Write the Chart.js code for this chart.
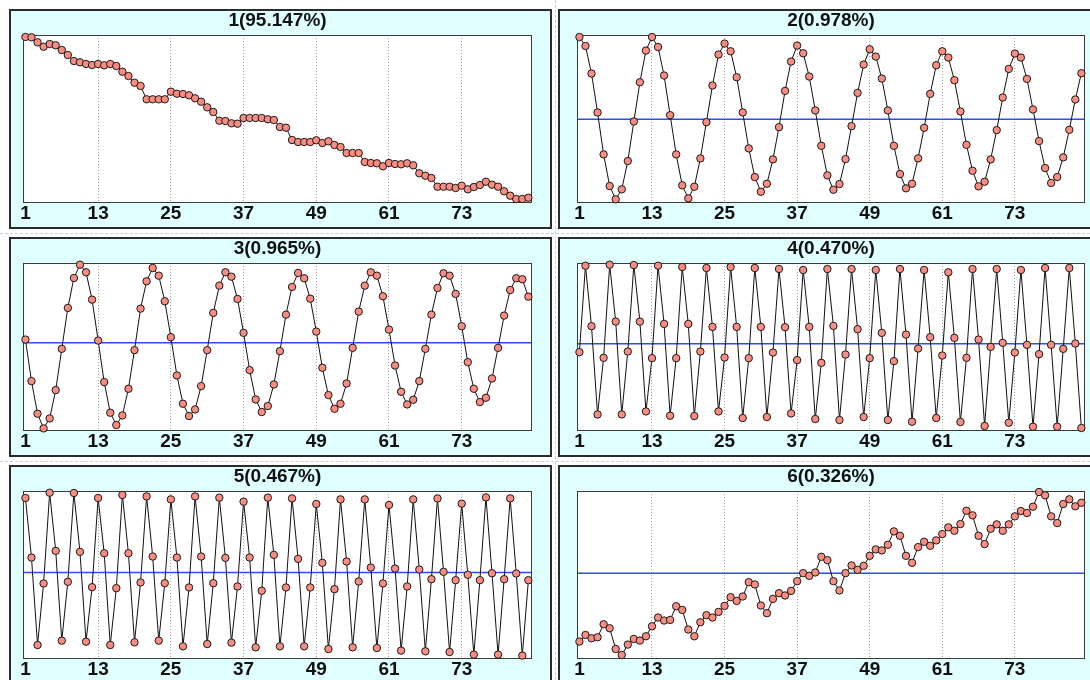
<!DOCTYPE html>
<html>
<head>
<meta charset="utf-8">
<script src="https://cdn.jsdelivr.net/npm/chart.js@4.4.1/dist/chart.umd.min.js"></script>
<style>
  html, body { margin: 0; padding: 0; background: #fff; }
  body { width: 1090px; height: 680px; position: relative; overflow: hidden; }
  .panel { position: absolute; box-sizing: border-box; width: 543px; height: 220px;
           border: 2px solid #2b2b2b; background: #e0ffff; }
  .panel.r { width: 540px; }
  .dash { position: absolute; border: 0 dashed #c3d2ee; }
</style>
</head>
<body>
<div class="dash" style="left:0;top:233px;width:1090px;border-top-width:1px"></div>
<div class="dash" style="left:0;top:461px;width:1090px;border-top-width:1px"></div>
<div class="dash" style="left:555px;top:0;height:680px;border-left-width:1px"></div>

<div class="panel" style="left:9px;top:9px"><canvas id="c1"></canvas></div>
<div class="panel r" style="left:558px;top:9px"><canvas id="c2"></canvas></div>
<div class="panel" style="left:9px;top:237px"><canvas id="c3"></canvas></div>
<div class="panel r" style="left:558px;top:237px"><canvas id="c4"></canvas></div>
<div class="panel" style="left:9px;top:465px"><canvas id="c5"></canvas></div>
<div class="panel r" style="left:558px;top:465px"><canvas id="c6"></canvas></div>

<script>
// x tick labels shown under every panel
const xTicks = [1, 13, 25, 37, 49, 61, 73];

const titles = ['1(95.147%)', '2(0.978%)', '3(0.965%)', '4(0.470%)', '5(0.467%)', '6(0.326%)'];

// components (relative units, 84 points each)
const comp1 = [166, 165.7, 160.7, 156.3, 159, 157.7, 153, 148, 142, 140.7,
  139, 138, 139, 137.7, 139, 137, 131.3, 127, 120.3, 117,
  103.7, 103.7, 103.7, 103.7, 111.3, 109.3, 109, 107.7, 104.7, 101.3,
  95.7, 91, 82.3, 82, 79.7, 79.3, 85, 85, 85, 85,
  83.7, 83, 76, 75.3, 63, 61, 61, 61, 62.7, 60,
  61.7, 58, 56, 50, 50, 50, 41, 40, 39.7, 36.7,
  40, 39, 38.7, 39.7, 37.7, 29.7, 27.3, 25, 16.3, 16.3,
  16.3, 15, 17.3, 13.7, 16, 18, 21.3, 18.3, 16.3, 11.7,
  7.3, 4, 4, 5.3];

const comp2 = [82.3, 73.3, 45.7, 6.7, -35.3, -67, -80.3, -70.3, -42, -2.3,
  37, 68.7, 82.3, 72.3, 43.7, 4, -35.3, -66.3, -79.3, -67.7,
  -39.3, -3, 33.7, 64.7, 75.7, 68, 42, 6.7, -29.3, -58,
  -72.7, -64.7, -40.3, -8, 28.3, 57.7, 73.7, 66, 42.7, 8.7,
  -26.7, -56.3, -70.7, -65, -40, -7, 26.3, 54.7, 70, 62.7,
  40.7, 8.7, -26.7, -55, -69.3, -64.7, -39.3, -8.7, 25.3, 54,
  68, 61.7, 39, 7.7, -25.7, -51.7, -67.3, -62.7, -40.3, -11,
  21.7, 50.3, 65.7, 61.7, 40.3, 9.7, -22, -49, -64, -58,
  -38.3, -10.7, 19.7, 46];

const comp3 = [3.3, -38.3, -71, -85.7, -75.7, -47.3, -6, 35, 65, 78.3,
  70.7, 43.3, 2.3, -39.3, -70, -82.3, -72.7, -46, -7.3, 34.3,
  61.7, 75, 67.3, 41.7, 5.7, -32.7, -61, -73.3, -66.7, -43.3,
  -7.3, 30, 57.3, 70.7, 66.3, 44, 10, -27.3, -56.7, -69.3,
  -63.3, -41.7, -8.3, 28.3, 56, 70, 64.7, 44.3, 11.3, -25,
  -52.3, -66, -61, -40.7, -5, 31.3, 57.3, 70.7, 67.3, 46.7,
  13.3, -22.7, -49, -61.7, -57, -38.3, -6, 28.3, 55, 69.7,
  67.3, 49, 16.7, -19.3, -46, -59.3, -55, -35.7, -5, 27.3,
  53, 64.7, 63.7, 46.3];

const comp4 = [-8.3, 78.3, 17.7, -70.7, -14, 79.3, 22.3, -70.7, -7.7, 79,
  22.3, -67.7, -14.3, 78.3, 20, -72, -14.3, 77, 20, -72.3,
  -7.7, 76, 17, -67.7, -13.7, 77, 17, -74.3, -14.3, 76,
  17, -73.3, -8.7, 75, 16.7, -69.7, -16.3, 74, 17, -75.3,
  -19, 75, 18, -76.3, -10.7, 75, 14.7, -73.3, -14.3, 74,
  11, -76.3, -17.3, 75, 9.3, -78, -4.7, 74, 6.7, -74.3,
  -11.7, 71.7, 6, -78.3, -14, 75, 4.3, -82.3, -3, 75,
  1, -79, -8.7, 74, -1, -83, -10.3, 76, -1, -83,
  -5, 76, 0.3, -84.3];

const comp5 = [74.7, 15, -72.7, -11, 80, 21.7, -68.3, -9.3, 79.7, 20.7,
  -69.3, -14.7, 74.7, 19.3, -72.7, -15.7, 77.7, 19.3, -70, -10,
  76.3, 16, -68.3, -10.7, 73.3, 15, -74, -15, 76.3, 16,
  -71.7, -10.7, 75, 14.7, -70.3, -14, 71, 15, -75, -18.3,
  75, 17.7, -74, -15, 74.3, 13.7, -74, -15, 68.7, 9.7,
  -76.7, -16.7, 73.3, 11, -75, -9, 73.3, 5, -75.7, -11,
  67.7, 4, -78.3, -14, 73.3, 3, -79, -6.7, 74.3, 0.7,
  -79.7, -7.7, 69, -2.3, -82.3, -7.7, 75.3, -0.7, -82.3, -6.7,
  74.3, -1, -83.3, -7.7];

const comp6 = [-68.3, -61.7, -65, -64, -51, -55, -75.7, -81.7, -71.3, -65.7,
  -67.3, -63, -53, -44.3, -47.3, -46.7, -33, -36.7, -56.3, -63,
  -49, -42, -44.3, -38.7, -32.7, -24, -27.7, -23.3, -9, -11.3,
  -32.3, -40, -25.7, -20, -22.3, -17.7, -8, 0, -2.7, 0.7,
  16.3, 13, -8, -17.3, 0, 7.7, 3.3, 7.3, 17.3, 23.7,
  22.7, 28.3, 41.7, 37.3, 17.3, 10.3, 26, 31.3, 27.3, 32.7,
  39, 45.7, 42.3, 49, 62.3, 57.7, 37.3, 29, 44.3, 48.7,
  42.3, 48.7, 56.7, 62, 60, 66.3, 81, 77.7, 56.7, 50,
  69, 73.7, 66.7, 70.3];

// vertical axis range of each panel
const yMins = [0, -84, -88.3, -87.3, -86.7, -85.7];
const yMaxs = [168, 84.3, 80, 81, 81.7, 82];

const family = "'Liberation Sans', Arial, sans-serif";

// white plot area, blue zero line and dark frame
const framePlugin = {
  id: 'frame',
  beforeDraw(chart) {
    const a = chart.chartArea, c = chart.ctx;
    c.save();
    c.fillStyle = '#fff';
    c.fillRect(a.left, a.top, a.right - a.left, a.bottom - a.top);
    c.restore();
  },
  beforeDatasetsDraw(chart, args, opts) {
    const a = chart.chartArea, c = chart.ctx;
    c.save();
    if (opts.zero) {
      const y = chart.scales.y.getPixelForValue(0);
      c.strokeStyle = '#2a4bff';
      c.lineWidth = 1.5;
      c.beginPath();
      c.moveTo(a.left, y);
      c.lineTo(a.right, y);
      c.stroke();
    }
    c.strokeStyle = '#3a3a3a';
    c.lineWidth = 1;
    c.strokeRect(a.left + 0.5, a.top + 0.5, a.right - a.left - 1, a.bottom - a.top - 1);
    c.restore();
  }
};

function makeChart(id, title, values, yMin, yMax, zero, padL, padR) {
  return new Chart(document.getElementById(id), {
    type: 'line',
    data: {
      datasets: [{
        data: values.map((v, i) => ({ x: i + 1, y: v })),
        borderColor: '#111',
        borderWidth: 1,
        pointRadius: 3.7,
        pointBackgroundColor: '#fa8c82',
        pointBorderColor: '#1a1a1a',
        pointBorderWidth: 1,
        tension: 0,
        clip: false
      }]
    },
    options: {
      responsive: true,
      maintainAspectRatio: false,
      animation: false,
      layout: { padding: { left: padL, right: padR, top: 0, bottom: 2 } },
      plugins: {
        legend: { display: false },
        tooltip: { enabled: false },
        title: {
          display: true, text: title, color: '#111',
          font: { family: family, size: 19, weight: 'bold', lineHeight: 1 },
          padding: { top: 0, bottom: 5 }
        },
        frame: { zero: zero }
      },
      scales: {
        x: {
          type: 'linear', min: 0.6, max: 84.6,
          afterBuildTicks: s => { s.ticks = xTicks.map(v => ({ value: v })); },
          ticks: {
            autoSkip: false, maxRotation: 0, padding: 0, color: '#111',
            font: { family: family, size: 19, weight: 'bold', lineHeight: 22 / 19 }
          },
          grid: {
            drawTicks: false, lineWidth: 1,
            color: ctx => (ctx.tick && ctx.tick.value === 1) ? 'rgba(0,0,0,0)' : '#a8a8a8'
          },
          border: { display: false, dash: [1, 2] }
        },
        y: { display: false, min: yMin, max: yMax }
      }
    },
    plugins: [framePlugin]
  });
}

const comps = [comp1, comp2, comp3, comp4, comp5, comp6];
comps.forEach((vals, i) => {
  const left = i % 2 === 0;
  makeChart('c' + (i + 1), titles[i], vals, yMins[i], yMaxs[i], i > 0,
    left ? 12 : 17, left ? 18 : 11);
});
</script>
</body>
</html>
